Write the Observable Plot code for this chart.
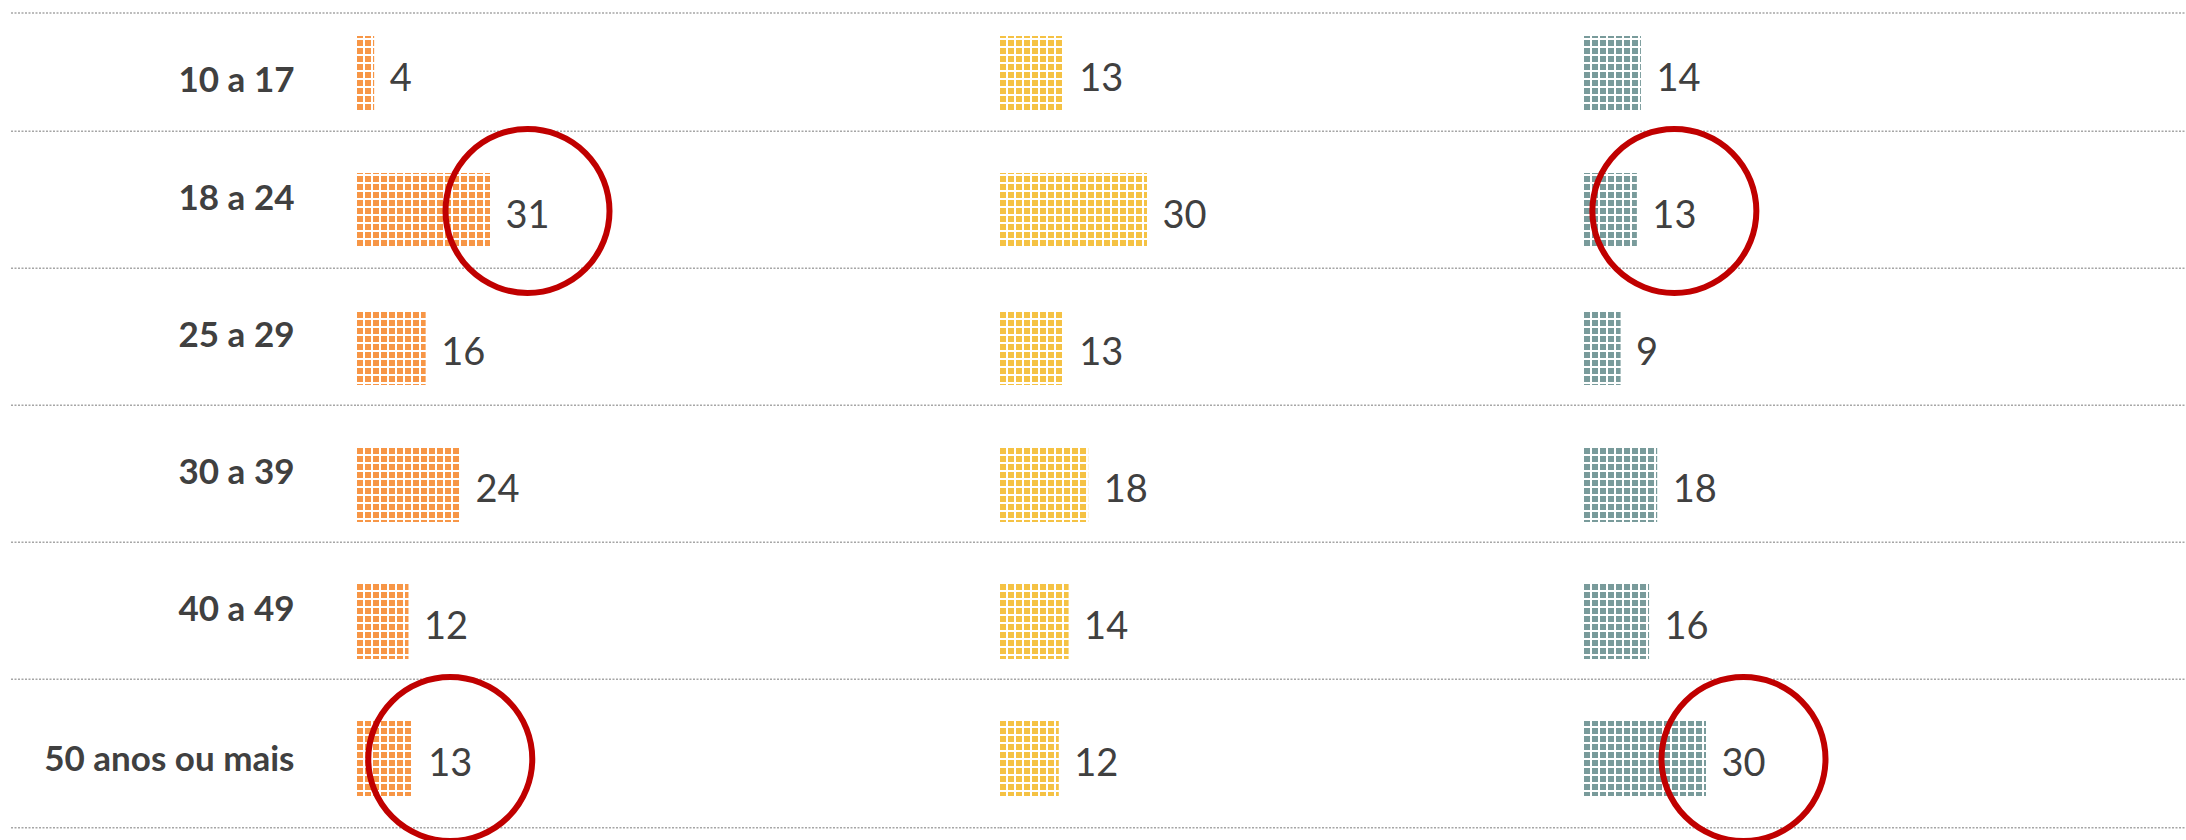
<!DOCTYPE html>
<html><head><meta charset="utf-8">
<script src="https://cdn.jsdelivr.net/npm/d3@7"></script>
<script src="https://cdn.jsdelivr.net/npm/@observablehq/plot@0.6"></script>
<style>
html,body{margin:0;padding:0;background:#fff;}
#chart{display:flex;width:2186px;height:840px;overflow:hidden;}
#chart svg{display:block;flex:none;}
</style></head><body><div id="chart"></div>
<script>
// ---- data ----
const ages = ["10 a 17","18 a 24","25 a 29","30 a 39","40 a 49","50 anos ou mais"];
const serie1 = [4, 31, 16, 24, 12, 13];
const serie2 = [13, 30, 13, 18, 14, 12];
const serie3 = [14, 13, 9, 18, 16, 30];
const destaque1 = [false, true, false, false, false, true];
const destaque2 = [false, false, false, false, false, false];
const destaque3 = [false, true, false, false, false, true];

// ---- layout / style ----
const H = 840;
const Y_RANGE = [3.4, 827.6];
const STEP = (Y_RANGE[1] - Y_RANGE[0]) / ages.length;
const LINE = {stroke: "#a6a6a6", strokeDasharray: "2,1.5", strokeWidth: 1.5};
const TEXT = "#404040";
const FONT = "Lato, 'Open Sans', sans-serif";
const first = ages[0], last = ages[ages.length - 1];

function separators() {
  return [
    Plot.ruleY([first], {dy: -STEP / 2 + 7.6, ...LINE}),
    Plot.ruleY(ages.slice(1), {dy: -STEP / 2 - 11, ...LINE}),
    Plot.ruleY([last], {dy: STEP / 2, ...LINE})
  ];
}

function labelPlot() {
  const lab = {text: d => d, frameAnchor: "right", dx: -63, textAnchor: "end",
    fontWeight: "bold", fontSize: 35, fill: TEXT};
  return Plot.plot({
    width: 357, height: H,
    marginLeft: 11, marginRight: 0, marginTop: 0, marginBottom: 0,
    y: {type: "band", domain: ages, range: Y_RANGE, padding: 0, axis: null},
    style: {fontFamily: FONT, background: "transparent"},
    marks: [
      ...separators(),
      Plot.text([first], {y: d => d, dy: 7, ...lab}),
      Plot.text(ages.slice(1, -1), {y: d => d, dy: -12, ...lab}),
      Plot.text([last], {y: d => d, dy: 1, ...lab})
    ]
  });
}

function columnPlot(values, flags, color, id, width, xMax, xWidth) {
  const data = ages.map((a, i) => ({age: a, value: values[i], hi: flags[i]}));
  const svg = Plot.plot({
    width, height: H,
    marginLeft: 0, marginRight: 0, marginTop: 0, marginBottom: 0,
    x: {domain: [0, xMax], range: [0, xWidth], axis: null},
    y: {type: "band", domain: ages, range: Y_RANGE, padding: 0, axis: null},
    style: {fontFamily: FONT, background: "transparent"},
    marks: [
      ...separators(),
      Plot.barX(data, {x: "value", y: "age", fill: `url(#${id})`, insetTop: 31, insetBottom: 31}),
      Plot.text(data, {x: "value", y: "age", text: d => String(d.value), textAnchor: "start",
        dx: 15, dy: 5, fontSize: 38, fill: TEXT}),
      Plot.dot(data.filter(d => d.hi), {x: "value", y: "age", r: 82, dx: 37,
        stroke: "#C00000", strokeWidth: 6, fill: "none"})
    ]
  });
  const defs = d3.select(svg).insert("defs", ":first-child");
  const p = defs.append("pattern").attr("id", id)
    .attr("patternUnits", "userSpaceOnUse").attr("width", 8).attr("height", 8);
  p.append("rect").attr("width", 8).attr("height", 8).attr("fill", "#ffffff");
  p.append("rect").attr("x", 0).attr("y", 0).attr("width", 6).attr("height", 6).attr("fill", color);
  return svg;
}

const chart = document.getElementById("chart");
chart.appendChild(labelPlot());
chart.appendChild(columnPlot(serie1, destaque1, "#F79646", "pat-orange", 643, 31, 133));
chart.appendChild(columnPlot(serie2, destaque2, "#F5C244", "pat-yellow", 584, 30, 147));
chart.appendChild(columnPlot(serie3, destaque3, "#799B9B", "pat-teal", 602, 30, 122));
</script>
</body></html>
